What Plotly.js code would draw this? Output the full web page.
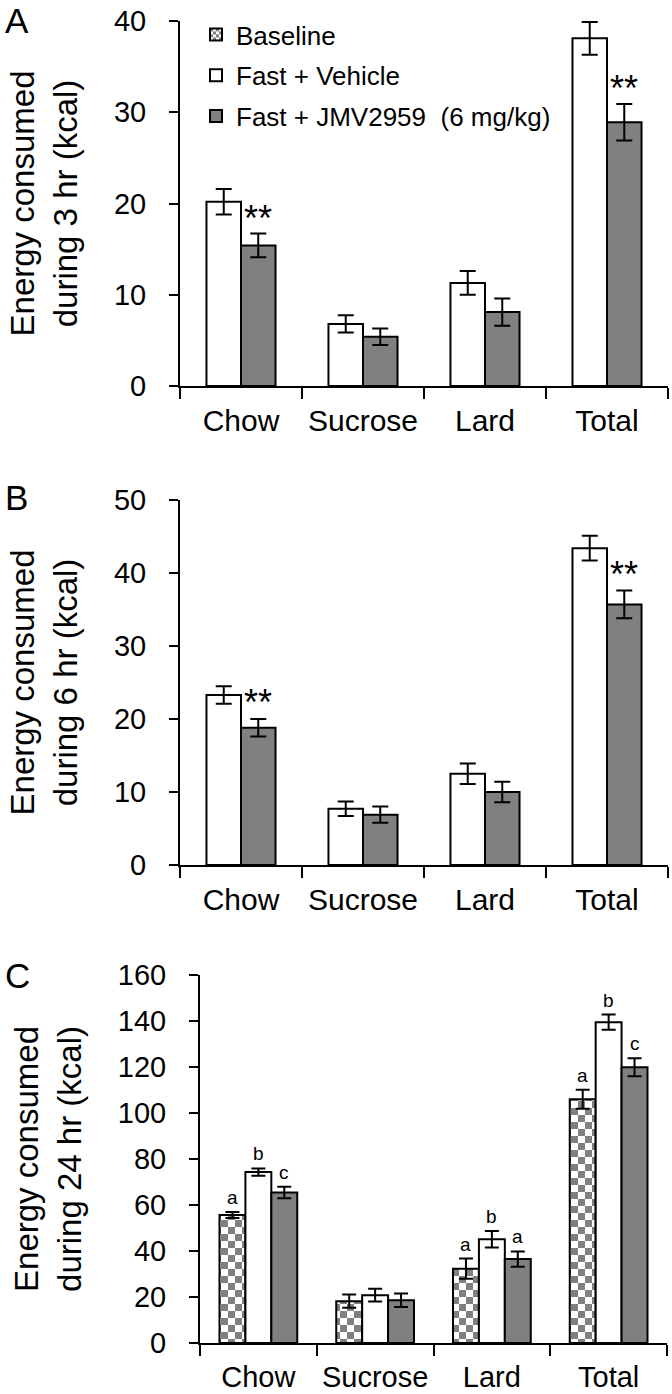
<!DOCTYPE html>
<html>
<head>
<meta charset="utf-8">
<script src="https://cdn.plot.ly/plotly-3.0.1.min.js"></script>
<style>
html,body{margin:0;padding:0;background:#fff;}
#chart{width:672px;height:1394px;}
</style>
</head>
<body>
<div id="chart"></div>
<script>
// ---------- data ----------
const categories = ['Chow', 'Sucrose', 'Lard', 'Total'];

// Panel A: 3 hr
const A_vehicle = [20.2, 6.8, 11.3, 38.1];
const A_vehicle_err = [1.4, 0.95, 1.3, 1.8];
const A_jmv = [15.4, 5.4, 8.1, 28.9];
const A_jmv_err = [1.3, 0.9, 1.5, 2.0];
const A_sig = ['**', '', '', '**'];

// Panel B: 6 hr
const B_vehicle = [23.3, 7.7, 12.5, 43.4];
const B_vehicle_err = [1.2, 1.0, 1.4, 1.7];
const B_jmv = [18.8, 6.9, 10.0, 35.7];
const B_jmv_err = [1.2, 1.1, 1.4, 1.9];
const B_sig = ['**', '', '', '**'];

// Panel C: 24 hr
const C_baseline = [55.7, 18.2, 32.3, 106.0];
const C_baseline_err = [1.3, 2.9, 4.4, 4.1];
const C_vehicle = [74.3, 20.8, 45.1, 139.5];
const C_vehicle_err = [1.6, 2.8, 3.6, 3.3];
const C_jmv = [65.4, 18.6, 36.5, 119.9];
const C_jmv_err = [2.5, 2.9, 3.3, 3.9];
const C_letters_baseline = ['a', '', 'a', 'a'];
const C_letters_vehicle = ['b', '', 'b', 'b'];
const C_letters_jmv = ['c', '', 'a', 'c'];

const seriesNames = ['Baseline', 'Fast + Vehicle', 'Fast + JMV2959\u00a0 (6 mg/kg)'];
const yTitles = ['Energy consumed<br>during 3 hr (kcal)', 'Energy consumed<br>during 6 hr (kcal)', 'Energy consumed<br>during 24 hr (kcal)'];
const panelLetters = ['A', 'B', 'C'];

// ---------- style ----------
const FONT = '"Liberation Sans", Arial, Helvetica, sans-serif';
const GRAY = '#808080';
const BW2 = 0.283;  // bar width (category units) in 2-bar panels
const BW3 = 0.222;  // bar width in 3-bar panel

function barTrace(name, y, err, color, xa, ya, offset, width, showlegend, group, pattern, capw) {
  const t = {
    type: 'bar', name: name, x: categories, y: y,
    xaxis: xa, yaxis: ya, offset: offset, width: width,
    legendgroup: group, showlegend: showlegend,
    marker: {color: color, line: {color: '#000', width: 2}},
    error_y: {type: 'data', array: err, visible: true, color: '#000', thickness: 2, width: capw},
    hoverinfo: 'skip'
  };
  if (pattern) t.marker.pattern = {shape: '+', fgcolor: GRAY, bgcolor: '#fff', size: 8, solidity: 0.5};
  return t;
}

const traces = [
  barTrace(seriesNames[1], A_vehicle, A_vehicle_err, '#fff', 'x', 'y', -BW2, BW2, false, 'veh', false, 8),
  barTrace(seriesNames[2], A_jmv, A_jmv_err, GRAY, 'x', 'y', 0, BW2, false, 'jmv', false, 8),
  barTrace(seriesNames[1], B_vehicle, B_vehicle_err, '#fff', 'x2', 'y2', -BW2, BW2, false, 'veh', false, 8),
  barTrace(seriesNames[2], B_jmv, B_jmv_err, GRAY, 'x2', 'y2', 0, BW2, false, 'jmv', false, 8),
  barTrace(seriesNames[0], C_baseline, C_baseline_err, '#fff', 'x3', 'y3', -1.5 * BW3, BW3, true, 'base', true, 7),
  barTrace(seriesNames[1], C_vehicle, C_vehicle_err, '#fff', 'x3', 'y3', -0.5 * BW3, BW3, true, 'veh', false, 7),
  barTrace(seriesNames[2], C_jmv, C_jmv_err, GRAY, 'x3', 'y3', 0.5 * BW3, BW3, true, 'jmv', false, 7)
];

// ---------- annotations (derived from data) ----------
const annotations = [];
function addMarks(labels, vals, errs, xref, yref, centerOffset, size, shift) {
  labels.forEach((txt, i) => {
    if (!txt) return;
    annotations.push({
      xref: xref, yref: yref, x: i + centerOffset, y: vals[i] + errs[i],
      text: txt, showarrow: false, xanchor: 'center', yanchor: 'bottom', yshift: shift,
      font: {family: FONT, size: size, color: '#000'}
    });
  });
}
addMarks(A_sig, A_jmv, A_jmv_err, 'x', 'y', BW2 / 2, 36, -7);
addMarks(B_sig, B_jmv, B_jmv_err, 'x2', 'y2', BW2 / 2, 36, -6);
addMarks(C_letters_baseline, C_baseline, C_baseline_err, 'x3', 'y3', -BW3, 19, 2);
addMarks(C_letters_vehicle, C_vehicle, C_vehicle_err, 'x3', 'y3', 0, 19, 2);
addMarks(C_letters_jmv, C_jmv, C_jmv_err, 'x3', 'y3', BW3, 19, 2);

const letterY = [1 - 20 / 1394, 1 - 498 / 1394, 1 - 975 / 1394];
panelLetters.forEach((L, i) => {
  annotations.push({
    xref: 'paper', yref: 'paper', x: 3 / 672, y: letterY[i], xanchor: 'left', yanchor: 'middle',
    text: L, showarrow: false, font: {family: FONT, size: 35, color: '#000'}
  });
});

// ---------- axes ----------
function xAxis(domain, anchor, fsize) {
  return {
    domain: domain, anchor: anchor, type: 'category', range: [-0.5, 3.5],
    showline: true, linecolor: '#000', linewidth: 2, mirror: false,
    ticks: 'outside', tickson: 'boundaries', ticklen: 11, tickwidth: 2, tickcolor: '#000',
    showgrid: false, zeroline: false, fixedrange: true, tickangle: 0,
    tickfont: {family: FONT, size: fsize, color: '#000'}, ticklabelstandoff: 7
  };
}
function yAxis(domain, anchor, range, dtick, title) {
  return {
    domain: domain, anchor: anchor, range: range, dtick: dtick, tick0: 0,
    showline: true, linecolor: '#000', linewidth: 2,
    ticks: 'outside', ticklen: 9, tickwidth: 2, tickcolor: '#000',
    showgrid: false, zeroline: false, fixedrange: true,
    tickfont: {family: FONT, size: 29, color: '#000'}, ticklabelstandoff: 17,
    title: {text: title, font: {family: FONT, size: 33, color: '#000'}, standoff: 26}
  };
}

const layout = {
  width: 672, height: 1394,
  margin: {l: 0, r: 0, t: 0, b: 0},
  paper_bgcolor: '#fff', plot_bgcolor: 'rgba(0,0,0,0)',
  barmode: 'overlay',
  font: {family: FONT, color: '#000'},
  xaxis: xAxis([180 / 672, 668 / 672], 'y', 30),
  yaxis: yAxis([(1394 - 386) / 1394, (1394 - 21) / 1394], 'x', [0, 40], 10, yTitles[0]),
  xaxis2: xAxis([180 / 672, 668 / 672], 'y2', 30),
  yaxis2: yAxis([(1394 - 865) / 1394, (1394 - 500) / 1394], 'x2', [0, 50], 10, yTitles[1]),
  xaxis3: xAxis([200 / 672, 667 / 672], 'y3', 29),
  yaxis3: yAxis([(1394 - 1343) / 1394, (1394 - 975) / 1394], 'x3', [0, 160], 20, yTitles[2]),
  showlegend: true,
  legend: {
    x: 196 / 672, y: 1 - 11 / 1394, xanchor: 'left', yanchor: 'top',
    bgcolor: 'rgba(0,0,0,0)', borderwidth: 0,
    font: {family: FONT, size: 26, color: '#000'},
    traceorder: 'grouped', tracegroupgap: 4
  },
  annotations: annotations
};

// checkerboard fill for the baseline pattern
function applyChecker(gd) {
  const NS = 'http://www.w3.org/2000/svg';
  gd.querySelectorAll('pattern').forEach(p => {
    const id = p.id;
    const inLegend = !!gd.querySelector('.legend [style*="' + id + '"]');
    const s = inLegend ? 3 : 7;
    p.setAttribute('width', 2 * s);
    p.setAttribute('height', 2 * s);
    p.setAttribute('patternUnits', 'userSpaceOnUse');
    p.removeAttribute('patternTransform');
    while (p.firstChild) p.removeChild(p.firstChild);
    const mk = (x, y, w, h, f) => {
      const r = document.createElementNS(NS, 'rect');
      r.setAttribute('x', x); r.setAttribute('y', y);
      r.setAttribute('width', w); r.setAttribute('height', h);
      r.setAttribute('fill', f);
      p.appendChild(r);
    };
    mk(0, 0, 2 * s, 2 * s, '#fff');
    mk(0, 0, s, s, GRAY);
    mk(s, s, s, s, GRAY);
  });
}

const gd = document.getElementById('chart');
Plotly.newPlot(gd, traces, layout, {displayModeBar: false, staticPlot: true}).then(() => {
  applyChecker(gd);
  gd.on && gd.on('plotly_afterplot', () => applyChecker(gd));
});
</script>
</body>
</html>
